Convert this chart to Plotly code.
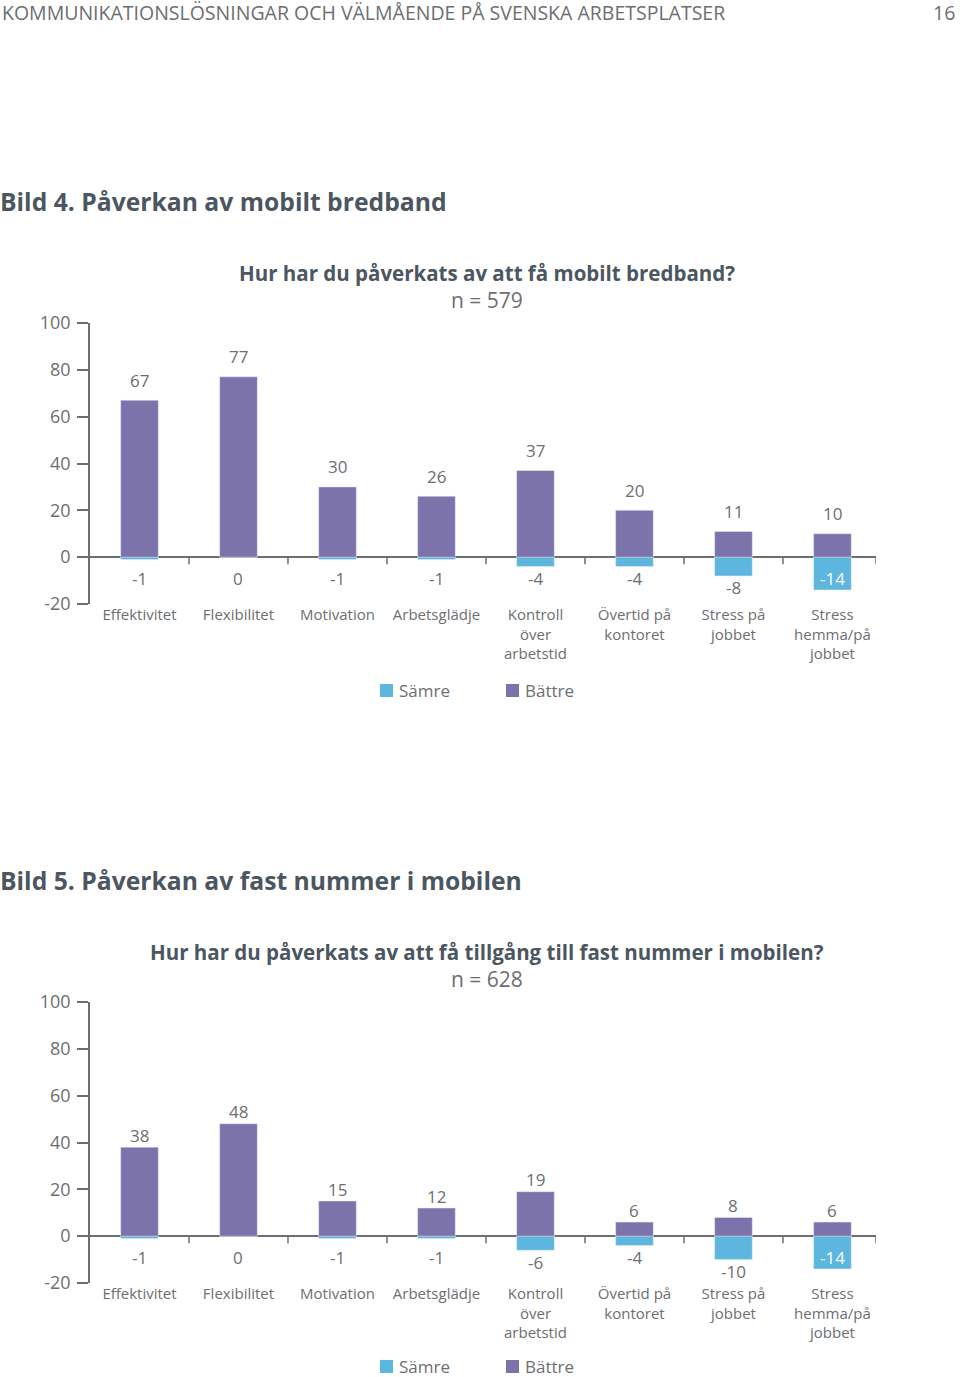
import plotly.graph_objects as go

categories = ["Effektivitet", "Flexibilitet", "Motivation", "Arbetsglädje",
              "Kontroll<br>över<br>arbetstid", "Övertid på<br>kontoret",
              "Stress på<br>jobbet", "Stress<br>hemma/på<br>jobbet"]

battre_1 = [67, 77, 30, 26, 37, 20, 11, 10]
samre_1 = [-1, 0, -1, -1, -4, -4, -8, -14]
battre_2 = [38, 48, 15, 12, 19, 6, 8, 6]
samre_2 = [-1, 0, -1, -1, -6, -4, -10, -14]

header = "KOMMUNIKATIONSLÖSNINGAR OCH VÄLMÅENDE PÅ SVENSKA ARBETSPLATSER"
page_no = "16"
section_1 = "Bild 4. Påverkan av mobilt bredband"
section_2 = "Bild 5. Påverkan av fast nummer i mobilen"
title_1 = "Hur har du påverkats av att få mobilt bredband?"
title_2 = "Hur har du påverkats av att få tillgång till fast nummer i mobilen?"
n_1 = "n = 579"
n_2 = "n = 628"
yticks = [-20, 0, 20, 40, 60, 80, 100]
legend_names = ["Sämre", "Bättre"]

PURPLE = "#7b73a9"
BLUE = "#5cb6dd"
GRAY = "#6d6e71"
DARK = "#4c5661"
FONT = "Open Sans"
W, H = 960, 1377
X_END = 7.44  # right end of the category axis (last slot is cut short)


def px_x(px):
    return px / W


def px_y(px):
    return 1 - px / H


fig = go.Figure()

charts = [
    dict(b=battre_1, s=samre_1, xa="x", ya="y", pos_shift=20, leg_y=690),
    dict(b=battre_2, s=samre_2, xa="x2", ya="y2", pos_shift=12, leg_y=1366),
]

annotations = []
shapes = []
for c in charts:
    fig.add_trace(go.Bar(x=categories, y=c["s"], name=legend_names[0], marker_color=BLUE,
                         width=0.38, xaxis=c["xa"], yaxis=c["ya"], showlegend=False))
    fig.add_trace(go.Bar(x=categories, y=c["b"], name=legend_names[1], marker_color=PURPLE,
                         width=0.38, xaxis=c["xa"], yaxis=c["ya"], showlegend=False))
    for cat, v in zip(categories, c["b"]):
        annotations.append(dict(x=cat, y=v, xref=c["xa"], yref=c["ya"], text=str(v),
                                showarrow=False, yshift=c["pos_shift"], yanchor="middle",
                                font=dict(family=FONT, size=17, color=GRAY)))
    for cat, v in zip(categories, c["s"]):
        inside = v <= -12
        ylab = -4 if inside else min(v, -4)
        annotations.append(dict(x=cat, y=ylab, xref=c["xa"], yref=c["ya"], text=str(v),
                                showarrow=False, yshift=-12, yanchor="middle",
                                font=dict(family=FONT, size=17, color="white" if inside else GRAY)))
    tick_x = [k + 0.5 for k in range(len(categories) - 1)] + [X_END]
    for tx in tick_x:
        shapes.append(dict(type="line", xref=c["xa"], yref=c["ya"], x0=tx, x1=tx,
                           ysizemode="pixel", yanchor=0, y0=0, y1=-7,
                           line=dict(color=GRAY, width=1.5)))
    # legend (drawn manually so it does not push the margins)
    for name, col, sx in zip(legend_names, [BLUE, PURPLE], [380, 506]):
        shapes.append(dict(type="rect", xref="paper", yref="paper",
                           x0=px_x(sx), x1=px_x(sx + 13),
                           y0=px_y(c["leg_y"] + 7), y1=px_y(c["leg_y"] - 6),
                           fillcolor=col, line=dict(width=0)))
        annotations.append(dict(x=px_x(sx + 17), y=px_y(c["leg_y"]), xref="paper", yref="paper",
                                xanchor="left", yanchor="middle", text=name, showarrow=False,
                                font=dict(family=FONT, size=17, color=GRAY)))

axis_common_x = dict(type="category", range=[-0.5, X_END], showline=False, ticks="",
                     showgrid=False, tickfont=dict(family=FONT, size=15, color=GRAY),
                     domain=[px_x(90), px_x(876)], ticklabelstandoff=0, fixedrange=True)
axis_common_y = dict(range=[-20, 100], tickvals=yticks, ticktext=[str(v) for v in yticks],
                     showline=True, linecolor=GRAY,
                     linewidth=1.5, ticks="outside", ticklen=11, tickcolor=GRAY, tickwidth=1.5,
                     showgrid=False, zeroline=True, zerolinecolor=GRAY, zerolinewidth=1.5,
                     tickfont=dict(family=FONT, size=18, color=GRAY), ticklabelstandoff=3,
                     fixedrange=True)


def text_ann(x, y, text, size, color, xanchor="center"):
    return dict(x=px_x(x), y=px_y(y), xref="paper", yref="paper", xanchor=xanchor,
                yanchor="middle", text=text, showarrow=False,
                font=dict(family=FONT, size=size, color=color))


annotations += [
    text_ann(0, 12, header, 19.5, GRAY, "left"),
    text_ann(957, 12, page_no, 19.5, GRAY, "right"),
    text_ann(-2, 202, "<b>%s</b>" % section_1, 24.7, DARK, "left"),
    text_ann(-2, 880, "<b>%s</b>" % section_2, 24.7, DARK, "left"),
    text_ann(487, 273, "<b>%s</b>" % title_1, 20.5, DARK),
    text_ann(487, 300, n_1, 21, GRAY),
    text_ann(487, 952, "<b>%s</b>" % title_2, 20.5, DARK),
    text_ann(487, 979, n_2, 21, GRAY),
]

fig.update_layout(
    width=W, height=H, margin=dict(l=0, r=0, t=0, b=0, autoexpand=False),
    paper_bgcolor="white", plot_bgcolor="white",
    barmode="overlay", showlegend=False,
    xaxis=dict(axis_common_x, anchor="y"),
    yaxis=dict(axis_common_y, domain=[px_y(604), px_y(323)], anchor="x"),
    xaxis2=dict(axis_common_x, anchor="y2"),
    yaxis2=dict(axis_common_y, domain=[px_y(1283), px_y(1002)], anchor="x2"),
    annotations=annotations, shapes=shapes,
)

fig.write_html("out.html", config={"displayModeBar": False},
               post_script="document.body.style.margin='0';")
